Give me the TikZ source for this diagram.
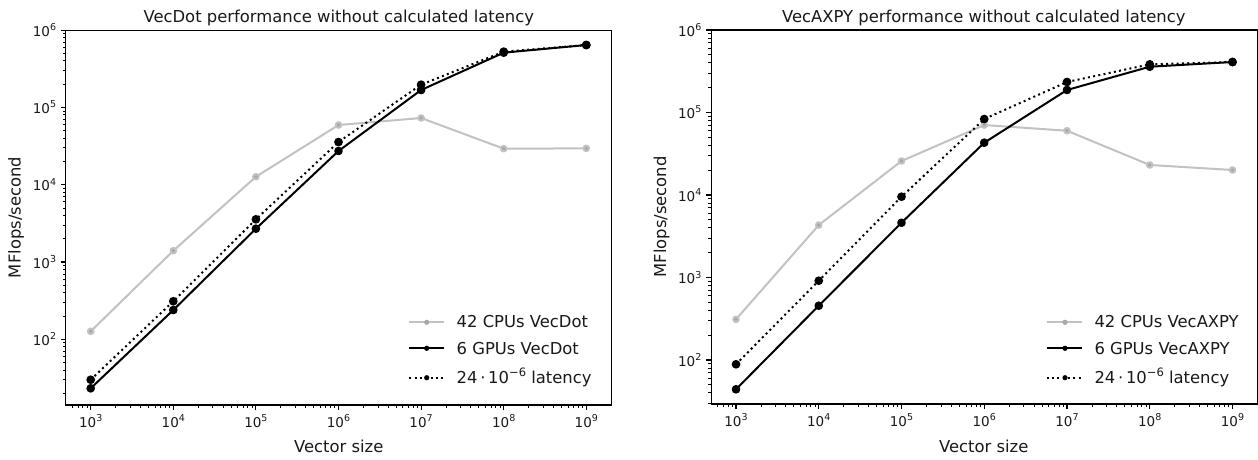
\documentclass[tikz,border=0pt]{standalone}
\usepackage{fontspec}
\setmainfont{DejaVu Sans}
\definecolor{cpuline}{gray}{0.76}
\definecolor{cpumark}{gray}{0.66}
\definecolor{txt}{gray}{0.1}
\newcommand\tickfont{\fontsize{13.5}{13.5}\selectfont}
\newcommand\bigfont{\fontsize{16.4}{16.4}\selectfont}
\newcommand\tsup[1]{\raisebox{0.43em}{\fontsize{9.5}{9.5}\selectfont #1}}
\newcommand\lsup[1]{\raisebox{0.43em}{\fontsize{11.5}{11.5}\selectfont #1}}
\tikzset{
  frame/.style={line width=1.1pt, black},
  majtick/.style={line width=1.1pt, black},
  mintick/.style={line width=0.8pt, black},
  cpu/.style={line width=2pt, cpuline, line join=round, mark=*, mark size=2.8pt, mark options={fill=cpumark, draw=none}},
  gpu/.style={line width=2pt, black, line join=round, mark=*, mark size=3.3pt, mark options={fill=black, draw=none}},
  lat/.style={line width=2pt, black, dash pattern=on 2pt off 3.3pt, mark=*, mark size=3.3pt, mark options={solid, fill=black, draw=none}},
  legcpu/.style={line width=2pt, cpuline},
  leggpu/.style={line width=2pt, black},
  leglat/.style={line width=2pt, black, dash pattern=on 2pt off 3.3pt},
  ticklab/.style={inner sep=0pt, text=txt, font=\tickfont},
  biglab/.style={inner sep=0pt, text=txt, font=\bigfont},
}
% #1 prefix, #2 bottom (log units relative to 10^2)
\newcommand\panelaxes[2]{%
  \foreach \i [evaluate=\i as \e using int(\i+3)] in {0,...,6} {
    \draw[majtick] (\i,#2) -- ++(0pt,-4.8pt);
    \node[ticklab, anchor=north] (#1x\i) at ([yshift=-9.6pt]\i,#2) {10\tsup{\e}};
  }
  \foreach \d in {-1,...,6} {
    \foreach \l in {0.30103,0.47712,0.60206,0.69897,0.77815,0.84510,0.90309,0.95424} {
      \pgfmathsetmacro\v{\d+\l}
      \pgfmathtruncatemacro\ok{and(\v>-0.3,\v<6.3)}
      \ifnum\ok=1 \draw[mintick] (\v,#2) -- ++(0pt,-2.7pt);\fi
    }
  }
  \foreach \j [evaluate=\j as \e using int(\j+2)] in {0,...,4} {
    \draw[majtick] (-0.3,\j) -- ++(-4.8pt,0pt);
    \node[ticklab, anchor=east] (#1y\j) at ([xshift=-9.6pt]-0.3,\j) {10\tsup{\e}};
  }
  \foreach \d in {-1,...,3} {
    \foreach \l in {0.30103,0.47712,0.60206,0.69897,0.77815,0.84510,0.90309,0.95424} {
      \pgfmathsetmacro\v{\d+\l}
      \pgfmathtruncatemacro\ok{and(\v>#2,\v<4)}
      \ifnum\ok=1 \draw[mintick] (-0.3,\v) -- ++(-2.7pt,0pt);\fi
    }
  }
}
% legend entry: #1 style, #2 x0, #3 xm, #4 x1, #5 y, #6 mark colour
\newcommand\legsample[6]{%
  \draw[#1] (#2,#5) -- (#4,#5);
  \fill[#6] (#3,#5) circle[radius=2.6pt];
}
\begin{document}
\begin{tikzpicture}[x=1pt,y=-1pt]
\useasboundingbox (0,0) rectangle (1258,459);
\fill[white] (0,0) rectangle (1258,459);

% ---------------- left panel: VecDot ----------------
\begin{scope}[shift={(90.7,339.3)}, x=82.6pt, y=77.3pt]
  \draw[cpu] plot coordinates {(0,0.103) (1,1.146) (2,2.103) (3,2.772) (4,2.863) (5,2.466) (6,2.47)};
  \draw[gpu] plot coordinates {(0,-0.634) (1,0.379) (2,1.431) (3,2.436) (4,3.225) (5,3.708) (6,3.807)};
  \draw[lat] plot coordinates {(0,-0.523) (1,0.492) (2,1.552) (3,2.552) (4,3.294) (5,3.721) (6,3.807)};
  \draw[frame] (-0.3,-0.85) rectangle (6.3,4);
  \panelaxes{L}{-0.85}
\end{scope}
\node[biglab, anchor=base] (Ltitle) at (338.8,22.3) {VecDot performance without calculated latency};
\node[biglab, anchor=base] (Lxlab) at (338.8,452) {Vector size};
\node[biglab, anchor=base, rotate=90] (Lylab) at (20.5,217.5) {MFlops/second};
% legend
\legsample{legcpu}{409.3}{426.7}{444}{322.3}{cpumark}
\legsample{leggpu}{409.3}{426.7}{444}{348.3}{black}
\legsample{leglat}{409.3}{426.7}{444}{377.7}{black}
\node[biglab, anchor=base west] (Lleg1) at (456.5,327.3) {42 CPUs VecDot};
\node[biglab, anchor=base west] (Lleg2) at (456.5,354) {6 GPUs VecDot};
\node[biglab, anchor=base west] (Lleg3) at (456.5,383.3) {24\,·\,10\lsup{−6} latency};

% ---------------- right panel: VecAXPY ----------------
\begin{scope}[shift={(736,360)}, x=82.75pt, y=82.5pt]
  \draw[cpu] plot coordinates {(0,0.493) (1,1.636) (2,2.412) (3,2.848) (4,2.779) (5,2.364) (6,2.303)};
  \draw[gpu] plot coordinates {(0,-0.355) (1,0.658) (2,1.664) (3,2.634) (4,3.273) (5,3.555) (6,3.612)};
  \draw[lat] plot coordinates {(0,-0.052) (1,0.961) (2,1.979) (3,2.921) (4,3.370) (5,3.584) (6,3.612)};
  \draw[frame] (-0.3,-0.533) rectangle (6.3,4);
  \panelaxes{R}{-0.533}
\end{scope}
\node[biglab, anchor=base] (Rtitle) at (983.8,22.3) {VecAXPY performance without calculated latency};
\node[biglab, anchor=base] (Rxlab) at (983.8,452) {Vector size};
\node[biglab, anchor=base, rotate=90] (Rylab) at (666,217) {MFlops/second};
\legsample{legcpu}{1046.7}{1065}{1081.7}{322.3}{cpumark}
\legsample{leggpu}{1046.7}{1065}{1081.7}{348.3}{black}
\legsample{leglat}{1046.7}{1065}{1081.7}{377.7}{black}
\node[biglab, anchor=base west] (Rleg1) at (1094.3,327.3) {42 CPUs VecAXPY};
\node[biglab, anchor=base west] (Rleg2) at (1094.3,354) {6 GPUs VecAXPY};
\node[biglab, anchor=base west] (Rleg3) at (1094.3,383.3) {24\,·\,10\lsup{−6} latency};
\end{tikzpicture}
\end{document}
